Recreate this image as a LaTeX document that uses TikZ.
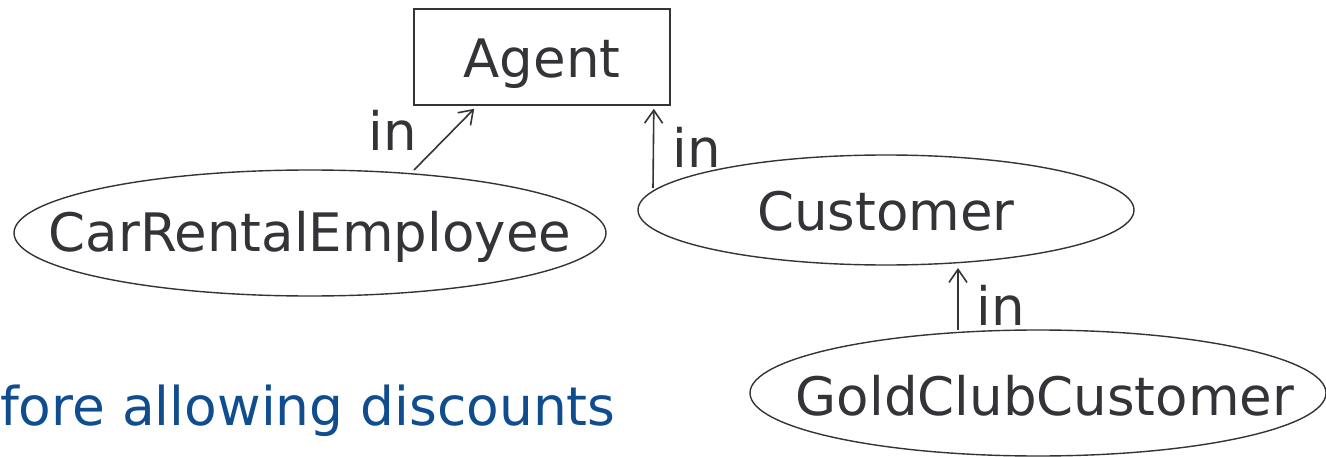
\documentclass[tikz,border=0pt]{standalone}
\usepackage{fontspec}
\setmainfont{DejaVu Sans}
\usetikzlibrary{arrows.meta}
\definecolor{ink}{HTML}{333338}
\definecolor{slideblue}{HTML}{0F4D8E}
\begin{document}
\begin{tikzpicture}[x=1pt,y=1pt,
  every node/.style={text=ink,font=\fontsize{53}{60}\selectfont},
  classbox/.style={draw=ink,line width=1.6pt,minimum width=256,minimum height=96,inner sep=0},
  ellline/.style={draw=ink,line width=1.4pt},
  inarrow/.style={draw=ink,line width=1.6pt,-{Straight Barb[length=13pt,width=18pt,line width=1.6pt]}},
  lbl/.style={inner sep=0}]
\useasboundingbox (0,0) rectangle (1326,456);

% classes
\node[classbox] (agent) at (542,399) {};
\node[lbl] (agentTxt) at (542,392) {Agent};
\node[lbl] (cre) at (310,219) {CarRentalEmployee};
\node[lbl] (cust) at (886,245) {Customer};
\node[lbl] (gold) at (1045,60) {GoldClubCustomer};

% ellipses around the class names
\draw[ellline] (310,223) ellipse [x radius=296, y radius=63];
\draw[ellline] (886,246) ellipse [x radius=248, y radius=55];
\draw[ellline] (1038,63) ellipse [x radius=288, y radius=63];

% attachment points on the borders
\coordinate (creTop) at (414,286);
\path (agent.south west) ++(61,-3) coordinate (agentL);
\coordinate (custTop) at (653,268);
\path (agent.south east) ++(-17,-3) coordinate (agentR);
\coordinate (goldTop) at (958,126);
\coordinate (custBot) at (958,188);

% "in" relations
\draw[inarrow] (creTop) -- (agentL);
\draw[inarrow] (custTop) -- (agentR);
\draw[inarrow] (goldTop) -- (custBot);

\node[lbl] (in1) at (393,326) {in};
\node[lbl] (in2) at (697,309) {in};
\node[lbl] (in3) at (1001,151) {in};

% caption fragment
\node[lbl,anchor=base west,text=slideblue,font=\fontsize{53.4}{60}\selectfont] (cap) at (0,31) {fore allowing discounts};
\end{tikzpicture}
\end{document}
